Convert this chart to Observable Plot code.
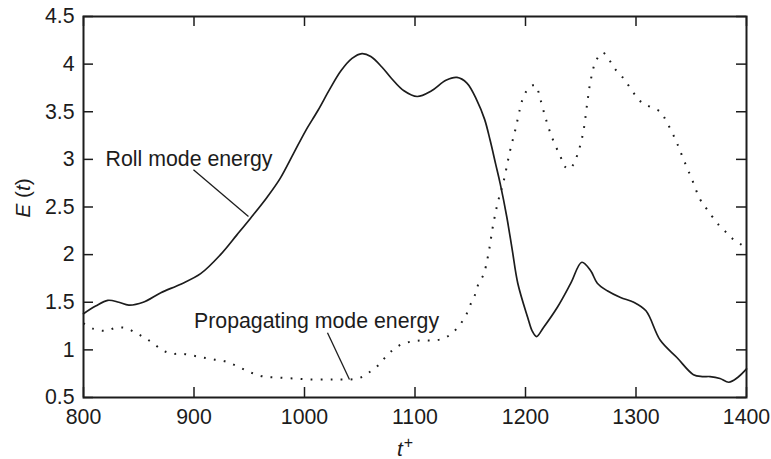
<!DOCTYPE html>
<html>
<head>
<meta charset="utf-8">
<script src="https://cdn.jsdelivr.net/npm/d3@7"></script>
<script src="https://cdn.jsdelivr.net/npm/@observablehq/plot@0.6"></script>
<style>
  html, body { margin: 0; padding: 0; background: white; }
  #chart svg { display: block; }
</style>
</head>
<body>
<div id="chart"></div>
<script>
// Roll mode energy (solid)
const rollT = [800, 811, 822, 832, 841, 854, 870, 888, 906, 924, 939, 951, 966, 978, 990, 1001, 1012, 1023, 1033, 1043, 1052, 1060, 1070, 1078, 1090, 1102, 1115, 1128, 1138, 1147, 1156, 1163, 1168, 1173, 1177, 1183, 1188, 1193, 1202, 1206, 1210, 1216, 1229, 1241, 1251, 1259, 1265, 1274, 1286, 1298, 1309, 1322, 1337, 1352, 1360, 1367, 1376, 1384, 1392, 1400];
const rollE = [1.38, 1.46, 1.52, 1.50, 1.47, 1.50, 1.60, 1.69, 1.80, 2.00, 2.21, 2.38, 2.60, 2.80, 3.06, 3.30, 3.51, 3.74, 3.93, 4.06, 4.11, 4.08, 3.97, 3.86, 3.72, 3.66, 3.72, 3.83, 3.86, 3.80, 3.62, 3.42, 3.20, 2.95, 2.75, 2.40, 2.05, 1.70, 1.34, 1.20, 1.14, 1.23, 1.45, 1.70, 1.92, 1.83, 1.70, 1.62, 1.55, 1.50, 1.41, 1.10, 0.92, 0.74, 0.72, 0.72, 0.70, 0.66, 0.71, 0.80];

// Propagating mode energy (dotted)
const propT = [800, 809, 820, 829, 838, 847, 855, 863, 871, 880, 889, 899, 908, 918, 928, 937, 946, 954, 963, 975, 990, 1005, 1020, 1030, 1042, 1051, 1058, 1066, 1073, 1080, 1088, 1098, 1107, 1117, 1126, 1134, 1141, 1146, 1150, 1154, 1157, 1162, 1166, 1171, 1175, 1180, 1186, 1191, 1195, 1198, 1203, 1209, 1213, 1218, 1224, 1232, 1236, 1240, 1243, 1247, 1252, 1256, 1259, 1264, 1270, 1276, 1281, 1288, 1293, 1299, 1305, 1313, 1322, 1327, 1336, 1343, 1351, 1358, 1364, 1375, 1383, 1389, 1396, 1400];
const propE = [1.28, 1.22, 1.20, 1.23, 1.23, 1.18, 1.13, 1.07, 1.00, 0.96, 0.96, 0.94, 0.92, 0.90, 0.88, 0.84, 0.79, 0.75, 0.72, 0.71, 0.70, 0.69, 0.69, 0.69, 0.69, 0.71, 0.76, 0.83, 0.92, 1.00, 1.06, 1.09, 1.10, 1.10, 1.12, 1.18, 1.27, 1.36, 1.47, 1.57, 1.68, 1.79, 1.98, 2.33, 2.55, 2.76, 3.09, 3.32, 3.53, 3.65, 3.75, 3.78, 3.65, 3.44, 3.23, 3.02, 2.92, 2.90, 2.94, 3.05, 3.27, 3.60, 3.83, 4.04, 4.12, 4.04, 3.95, 3.86, 3.78, 3.68, 3.60, 3.55, 3.50, 3.41, 3.20, 3.00, 2.78, 2.58, 2.48, 2.31, 2.22, 2.15, 2.10, 2.07];

const xTicks = [800, 900, 1000, 1100, 1200, 1300, 1400];
const yTicks = [0.5, 1, 1.5, 2, 2.5, 3, 3.5, 4, 4.5];

const annotations = [
  {text: "Roll mode energy", x: 820, y: 3.0, lx1: 899.5, ly1: 2.89, lx2: 949.3, ly2: 2.40},
  {text: "Propagating mode energy", x: 900, y: 1.305, lx1: 1020.8, ly1: 1.18, lx2: 1040.7, ly2: 0.69}
];

const roll = rollT.map((t, i) => ({t, e: rollE[i]}));
const prop = propT.map((t, i) => ({t, e: propE[i]}));

const W = 771, H = 459, mL = 83, mR = 25, mT = 16, mB = 62;
const innerW = W - mL - mR, innerH = H - mT - mB, tickLen = 10;
const ink = "#1c1c1c";
const font = "'Liberation Sans', Arial, Helvetica, sans-serif";
const fs = 21.3;

const chart = Plot.plot({
  width: W, height: H,
  marginLeft: mL, marginRight: mR, marginTop: mT, marginBottom: mB,
  style: {fontFamily: font, fontSize: fs + "px", color: ink, background: "white"},
  x: {domain: [800, 1400]},
  y: {domain: [0.5, 4.5]},
  marks: [
    Plot.axisX({ticks: xTicks, tickSize: 0, tickPadding: 11, tickFormat: d => String(d), label: null, fill: ink, fontSize: fs}),
    Plot.axisY({ticks: yTicks, tickSize: 0, tickPadding: 9, tickFormat: d => String(d), label: null, fill: ink, fontSize: fs}),
    Plot.tickX(xTicks, {x: d => d, insetTop: innerH - tickLen, stroke: ink, strokeWidth: 1.5}),
    Plot.tickX(xTicks, {x: d => d, insetBottom: innerH - tickLen, stroke: ink, strokeWidth: 1.5}),
    Plot.tickY(yTicks, {y: d => d, insetRight: innerW - tickLen, stroke: ink, strokeWidth: 1.5}),
    Plot.tickY(yTicks, {y: d => d, insetLeft: innerW - tickLen, stroke: ink, strokeWidth: 1.5}),
    Plot.line(prop, {x: "t", y: "e", curve: "catmull-rom", stroke: ink, strokeWidth: 2, strokeDasharray: "1.8 8.2", strokeLinecap: "butt"}),
    Plot.line(roll, {x: "t", y: "e", curve: "catmull-rom", stroke: ink, strokeWidth: 1.7}),
    Plot.link(annotations, {x1: "lx1", y1: "ly1", x2: "lx2", y2: "ly2", stroke: ink, strokeWidth: 1.3}),
    Plot.text(annotations, {x: "x", y: "y", text: "text", textAnchor: "start", fill: ink, fontSize: fs}),
    Plot.frame({stroke: ink, strokeWidth: 2})
  ]
});

document.getElementById("chart").appendChild(chart);

const svg = d3.select(chart);
// y-axis label: E (t)
const yl = svg.append("text")
  .attr("transform", "translate(23,198) rotate(-90)")
  .attr("text-anchor", "middle")
  .attr("dy", "0.35em")
  .attr("fill", ink)
  .style("font-family", font)
  .style("font-size", "21px");
yl.append("tspan").attr("font-style", "italic").text("E");
yl.append("tspan").text(" (");
yl.append("tspan").attr("font-style", "italic").text("t");
yl.append("tspan").text(")");

// x-axis label: t+
const xl = svg.append("text")
  .attr("x", 397).attr("y", 456)
  .attr("text-anchor", "start")
  .attr("fill", ink)
  .style("font-family", font)
  .style("font-size", "21px");
xl.append("tspan").attr("font-style", "italic").text("t");
xl.append("tspan").attr("dy", "-8").attr("dx", "1").style("font-size", "16px").text("+");
</script>
</body>
</html>
